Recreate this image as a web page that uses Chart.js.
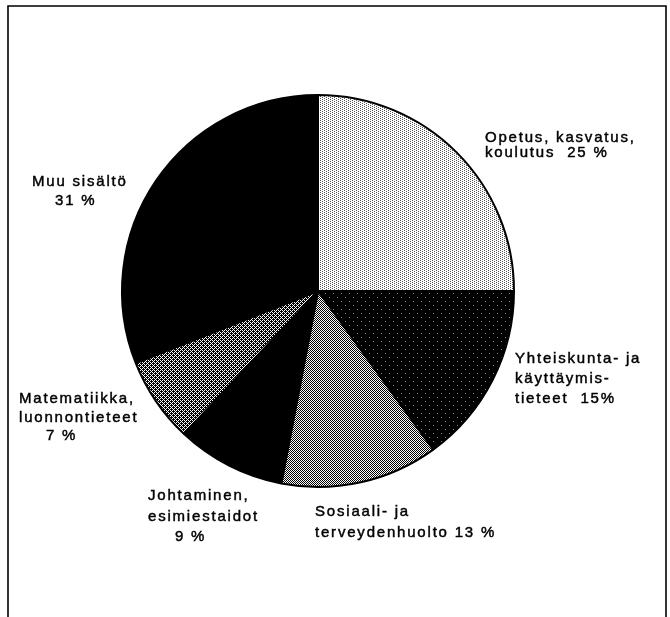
<!DOCTYPE html>
<html>
<head>
<meta charset="utf-8">
<script src="https://cdn.jsdelivr.net/npm/chart.js@4/dist/chart.umd.min.js"></script>
<style>
  html, body { margin: 0; padding: 0; background: #fff; }
  #wrap { position: relative; width: 670px; height: 617px; }
</style>
</head>
<body>
<div id="wrap"><canvas id="c" width="670" height="617"></canvas></div>
<script>
// ---- data ----
const categories = [
  "Opetus, kasvatus, koulutus",
  "Yhteiskunta- ja käyttäymistieteet",
  "Sosiaali- ja terveydenhuolto",
  "Johtaminen, esimiestaidot",
  "Matematiikka, luonnontieteet",
  "Muu sisältö"
];
const shares = [25, 15, 13, 9, 7, 31];
const labelTexts = [
  ["Opetus, kasvatus,", "koulutus  25 %"],
  ["Yhteiskunta- ja", "käyttäymis-", "tieteet  15%"],
  ["Sosiaali- ja", "terveydenhuolto 13 %"],
  ["Johtaminen,", "esimiestaidot", "9 %"],
  ["Matematiikka,", "luonnontieteet", "7 %"],
  ["Muu sisältö", "31 %"]
];

// ---- layout (label placement relative to pie centre) ----
const labelLayout = [
  { dx: 167, dy: -149, lh: 15, indent: [0, 0] },
  { dx: 197, dy: 72, lh: 20, indent: [0, 0, 0] },
  { dx: -3, dy: 225, lh: 20.5, indent: [0, 0] },
  { dx: -170, dy: 209, lh: 20.5, indent: [0, 0, 27] },
  { dx: -299, dy: 112, lh: 18.5, indent: [0, 0, 27] },
  { dx: -286, dy: -105, lh: 19, indent: [0, 23] }
];
const LETTER_SP = 1.8;

function makePattern(w, h, bg, fg, pts) {
  const cv = document.createElement('canvas');
  cv.width = w; cv.height = h;
  const g = cv.getContext('2d');
  g.fillStyle = bg; g.fillRect(0, 0, w, h);
  g.fillStyle = fg;
  pts.forEach(p => g.fillRect(p[0], p[1], 1, 1));
  return g.createPattern(cv, 'repeat');
}
const fills = [
  makePattern(4, 2, '#ffffff', '#555555', [[0,0],[2,1]]),
  makePattern(8, 8, '#000000', '#8a8a8a', [[1,1],[5,5]]),
  makePattern(2, 2, '#ffffff', '#000000', [[0,0],[1,1]]),
  '#000000',
  makePattern(4, 4, '#000000', '#ffffff', [[0,0],[2,0],[1,1],[0,2],[2,2],[3,3]]),
  '#000000'
];

function spacedText(c, t, x, y) {
  let cx = x;
  for (const ch of t) {
    c.fillText(ch, cx, y);
    c.strokeText(ch, cx, y);
    cx += c.measureText(ch).width + LETTER_SP;
  }
}

const framePlugin = {
  id: 'frame',
  afterDraw(chart) {
    const c = chart.ctx;
    c.save();
    c.strokeStyle = '#000';
    c.lineWidth = 1.6;
    c.beginPath();
    c.moveTo(8, 617); c.lineTo(8, 6); c.lineTo(666, 6); c.lineTo(666, 617);
    c.stroke();
    // labels
    const arc = chart.getDatasetMeta(0).data[0];
    const cx = arc.x, cy = arc.y;
    c.fillStyle = '#000';
    c.strokeStyle = '#000';
    c.lineWidth = 0.45;
    c.font = '15px "Liberation Sans", Arial, sans-serif';
    c.textBaseline = 'alphabetic';
    c.textAlign = 'left';
    labelTexts.forEach((lines, i) => {
      const L = labelLayout[i];
      lines.forEach((t, j) => {
        spacedText(c, t, cx + L.dx + (L.indent[j] || 0), cy + L.dy + j * L.lh);
      });
    });
    c.restore();
  }
};

new Chart(document.getElementById('c'), {
  type: 'pie',
  data: {
    labels: categories,
    datasets: [{
      data: shares,
      backgroundColor: fills,
      borderColor: '#000',
      borderWidth: 2
    }]
  },
  options: {
    responsive: false,
    devicePixelRatio: 1,
    animation: false,
    layout: { padding: { left: 121, right: 155, top: 94, bottom: 129 } },
    plugins: { legend: { display: false }, tooltip: { enabled: false } }
  },
  plugins: [framePlugin]
});
</script>
</body>
</html>
